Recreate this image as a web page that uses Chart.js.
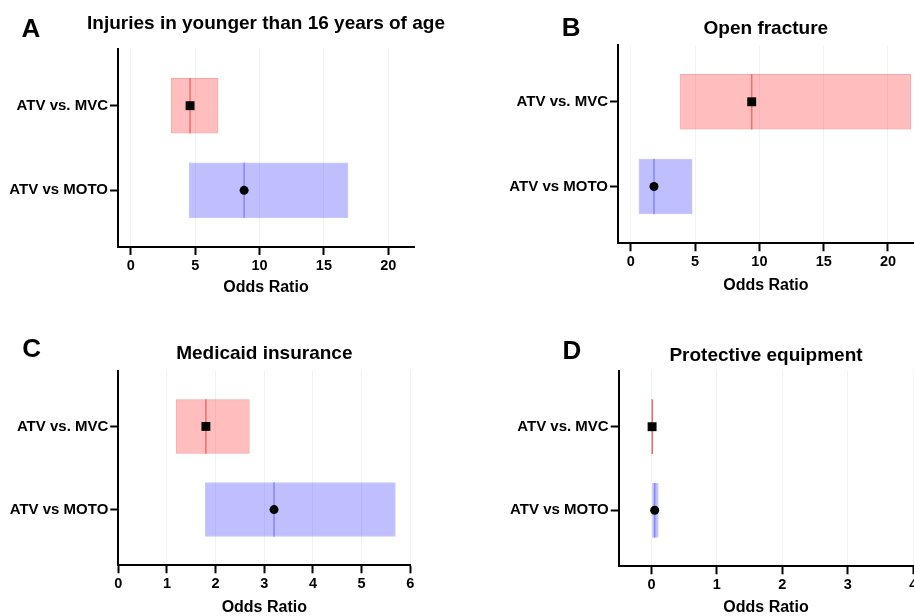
<!DOCTYPE html>
<html><head><meta charset="utf-8">
<script src="https://cdn.jsdelivr.net/npm/chart.js@4.4.1/dist/chart.umd.min.js"></script>
<style>
html,body{margin:0;padding:0;background:#fff;}
#wrap{position:relative;width:914px;height:616px;overflow:hidden;background:#fff;}
canvas{position:absolute;}
.lbl{position:absolute;font-family:'Liberation Sans',Arial,sans-serif;font-weight:bold;font-size:26px;line-height:26px;color:#000;white-space:nowrap;}
</style></head>
<body><div id="wrap"></div>
<script>
// ---------- DATA ----------
const categories = ["ATV vs. MVC", "ATV vs MOTO"];
const panelLetters = ["A", "B", "C", "D"];
const panelTitles = ["Injuries in younger than 16 years of age", "Open fracture", "Medicaid insurance", "Protective equipment"];
const axisTitle = "Odds Ratio";

const oddsA = [4.6, 8.8];   const lowA = [3.1, 4.5];   const highA = [6.8, 16.9];
const oddsB = [9.4, 1.8];   const lowB = [3.8, 0.6];   const highB = [21.8, 4.8];
const oddsC = [1.8, 3.2];   const lowC = [1.18, 1.78]; const highC = [2.7, 5.7];
const oddsD = [0.01, 0.05]; const lowD = [0.0, 0.01];  const highD = [0.03, 0.11];

const xTicksA = [0, 5, 10, 15, 20];
const xTicksB = [0, 5, 10, 15, 20];
const xTicksC = [0, 1, 2, 3, 4, 5, 6];
const xTicksD = [0, 1, 2, 3, 4];

// ---------- STYLE / LAYOUT ----------
const FONT = "'Liberation Sans', Arial, sans-serif";
Chart.defaults.font.family = FONT;
Chart.defaults.color = '#000';

const fills   = ['rgba(255,0,0,0.26)', 'rgba(0,0,255,0.25)'];
const borders = ['rgba(230,60,60,0.45)', 'rgba(70,70,230,0.3)'];
const medCols = ['rgba(220,60,60,0.6)', 'rgba(80,80,230,0.5)'];
const pointStyles = ['rect', 'circle'];
const pointRadii = [6.3, 4.5];

const panels = [
  { letter: panelLetters[0], title: panelTitles[0], odds: oddsA, low: lowA, high: highA, ticks: xTicksA, xMin: -1, xMax: 22,
    box: {left: 0, top: 0, w: 457, h: 308}, area: {left: 118, right: 414, top: 49, bottom: 247},
    letterPos: {left: 21.5, top: 15}, titleY: 24, axPad: 12 },
  { letter: panelLetters[1], title: panelTitles[1], odds: oddsB, low: lowB, high: highB, ticks: xTicksB, xMin: -1, xMax: 22,
    box: {left: 457, top: 0, w: 457, h: 308}, area: {left: 161, right: 456.7, top: 45, bottom: 243.3},
    letterPos: {left: 104.8, top: 14}, titleY: 29, axPad: 14.3 },
  { letter: panelLetters[2], title: panelTitles[2], odds: oddsC, low: lowC, high: highC, ticks: xTicksC, xMin: 0, xMax: 6,
    box: {left: 0, top: 308, w: 457, h: 308}, area: {left: 118.3, right: 410.3, top: 62.7, bottom: 257.3},
    letterPos: {left: 22.2, top: 27.3}, titleY: 46, axPad: 0.3 },
  { letter: panelLetters[3], title: panelTitles[3], odds: oddsD, low: lowD, high: highD, ticks: xTicksD, xMin: -0.5, xMax: 4,
    box: {left: 457, top: 308, w: 457, h: 308}, area: {left: 161.7, right: 456.3, top: 62.7, bottom: 258.3},
    letterPos: {left: 105.4, top: 29.3}, titleY: 47.3, axPad: 0.5 }
];

const medianPlugin = {
  id: 'medianLines',
  afterDatasetDraw(chart, args) {
    const ds = chart.data.datasets[args.index];
    if (!ds.medians) return;
    const ctx = chart.ctx, xs = chart.scales.x;
    args.meta.data.forEach((el, i) => {
      const px = xs.getPixelForValue(ds.medians[i]);
      const h = el.height;
      ctx.save();
      ctx.strokeStyle = ds.medianColors[i];
      ctx.lineWidth = 1.5;
      ctx.beginPath();
      ctx.moveTo(px, el.y - h / 2);
      ctx.lineTo(px, el.y + h / 2);
      ctx.stroke();
      ctx.restore();
    });
  }
};

// panel title centred over the plot area (not squeezed to its width)
const panelTitlePlugin = {
  id: 'panelTitle',
  afterDraw(chart, args, opts) {
    const ctx = chart.ctx, a = chart.chartArea;
    ctx.save();
    ctx.font = 'bold 19px ' + FONT;
    ctx.fillStyle = '#000';
    ctx.textAlign = 'center';
    ctx.textBaseline = 'middle';
    ctx.fillText(opts.text, (a.left + a.right) / 2, opts.y);
    ctx.restore();
  }
};

const wrap = document.getElementById('wrap');
panels.forEach(p => {
  const cv = document.createElement('canvas');
  cv.width = p.box.w; cv.height = p.box.h;
  cv.style.left = p.box.left + 'px'; cv.style.top = p.box.top + 'px';
  cv.style.width = p.box.w + 'px'; cv.style.height = p.box.h + 'px';
  wrap.appendChild(cv);

  const lab = document.createElement('div');
  lab.className = 'lbl';
  lab.textContent = p.letter;
  lab.style.left = (p.box.left + p.letterPos.left) + 'px';
  lab.style.top = (p.box.top + p.letterPos.top) + 'px';
  wrap.appendChild(lab);

  new Chart(cv, {
    type: 'scatter',
    data: {
      datasets: [
        {
          type: 'bar', indexAxis: 'y',
          data: categories.map((c, i) => ({x: [p.low[i], p.high[i]], y: i})),
          backgroundColor: fills, borderColor: borders, borderWidth: 1, borderSkipped: false,
          barPercentage: 0.655, categoryPercentage: 1,
          medians: p.odds, medianColors: medCols, order: 2
        },
        {
          type: 'scatter',
          data: categories.map((c, i) => ({x: p.odds[i], y: i})),
          pointStyle: pointStyles, pointRadius: pointRadii,
          backgroundColor: '#000', borderColor: '#000', borderWidth: 0, order: 1, clip: false
        }
      ]
    },
    options: {
      responsive: false, animation: false, devicePixelRatio: 1,
      layout: {autoPadding: false, padding: {left: 0, top: p.area.top, right: p.box.w - p.area.right, bottom: 0}},
      plugins: {
        legend: {display: false}, tooltip: {enabled: false}, title: {display: false},
        panelTitle: {text: p.title, y: p.titleY}
      },
      scales: {
        x: {
          type: 'linear', position: 'bottom', min: p.xMin, max: p.xMax,
          afterBuildTicks: s => { s.ticks = p.ticks.map(v => ({value: v})); },
          afterFit: s => { s.height = p.box.h - p.area.bottom; s.paddingLeft = 0; s.paddingRight = 0; },
          grid: {color: 'rgba(0,0,0,0.05)', lineWidth: 1, tickColor: '#000', tickWidth: 2, tickLength: 8},
          border: {color: '#000', width: 2},
          ticks: {color: '#000', font: {size: 14.5, weight: 'bold'}, padding: 2.3, maxRotation: 0, autoSkip: false},
          title: {display: true, text: axisTitle, color: '#000',
                  font: {size: 16, weight: 'bold', lineHeight: 1}, padding: {top: 0, bottom: p.axPad}}
        },
        y: {
          type: 'linear', position: 'left', reverse: true, min: -0.67, max: 1.67, offset: false,
          afterBuildTicks: s => { s.ticks = categories.map((c, i) => ({value: i})); },
          afterFit: s => { s.width = p.area.left; s.paddingTop = 0; s.paddingBottom = 0; },
          grid: {drawOnChartArea: false, offset: false, tickColor: '#000', tickWidth: 2, tickLength: 8},
          border: {color: '#000', width: 2},
          ticks: {color: '#000', font: {size: 15, weight: 'bold'}, padding: 2, autoSkip: false,
                  callback: v => (categories[v] !== undefined ? categories[v] : '')}
        }
      }
    },
    plugins: [medianPlugin, panelTitlePlugin]
  });
});
</script>
</body></html>
